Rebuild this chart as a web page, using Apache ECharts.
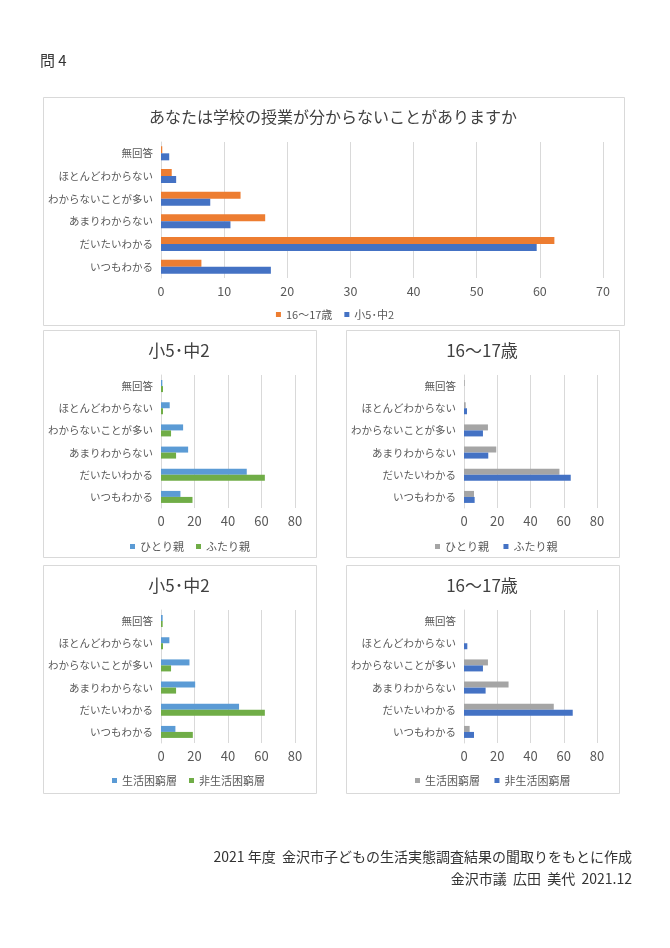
<!DOCTYPE html>
<html><head><meta charset="utf-8">
<script src="https://cdn.jsdelivr.net/npm/echarts@6/dist/echarts.min.js"></script>
<style>html,body{margin:0;padding:0;background:#fff;}#c{width:670px;height:948px;}</style>
</head><body><div id="c"></div>
<script>
const categories = ['いつもわかる','だいたいわかる','あまりわからない','わからないことが多い','ほとんどわからない','無回答'];
// Top chart
const topAge16 = [6.4, 62.3, 16.5, 12.6, 1.7, 0.2];
const topElem = [17.4, 59.5, 11.0, 7.8, 2.4, 1.3];
// 小5・中2 by family
const elemSingle = [11.6, 51.2, 16.2, 13.2, 5.2, 0.8];
const elemTwo = [18.8, 62.0, 9.0, 6.0, 1.2, 1.2];
// 16~17 by family
const hsSingle = [6.0, 57.4, 19.4, 14.4, 1.0, 0.4];
const hsTwo = [6.4, 64.2, 14.6, 11.4, 1.8, 0];
// 小5・中2 by poverty
const elemPoor = [8.6, 46.6, 20.4, 17.0, 5.0, 1.0];
const elemNonPoor = [19.0, 62.0, 9.0, 6.0, 1.2, 1.0];
// 16~17 by poverty
const hsPoor = [3.4, 54.0, 26.8, 14.4, 0, 0];
const hsNonPoor = [6.0, 65.4, 13.0, 11.4, 2.0, 0];

const FONT = '"Noto Sans CJK JP", "Noto Sans", sans-serif';
const TXT = '#595959';
const chart = echarts.init(document.getElementById('c'), null, {renderer:'canvas'});

const grids = [
  {left:161, width:442, top:142, height:136},
  {left:161, width:134, top:375, height:133},
  {left:464, width:133, top:375, height:133},
  {left:161, width:134, top:610, height:133},
  {left:464, width:133, top:610, height:133}
];
function xAx(i, max, interval, fs){
  return {type:'value', gridIndex:i, min:0, max:max, interval:interval,
    axisLine:{show:false}, axisTick:{show:false},
    axisLabel:{color:TXT, fontSize:fs, fontFamily:FONT, margin:7},
    splitLine:{lineStyle:{color:'#d9d9d9', width:1}}};
}
function yAx(i){
  return {type:'category', gridIndex:i, data:categories,
    axisLine:{show:true, lineStyle:{color:'#d9d9d9'}}, axisTick:{show:false},
    axisLabel:{color:TXT, fontSize:10.5, fontFamily:FONT, margin:8}};
}
function bar(name, data, i, color, bw){
  return {type:'bar', name:name, data:data, xAxisIndex:i, yAxisIndex:i,
    barWidth:bw, barGap:'0%', itemStyle:{color:color}, silent:true, animation:false};
}
const legendBase = {itemWidth:5, itemHeight:5, icon:'rect', itemGap:12,
  textStyle:{color:TXT, fontSize:11, fontFamily:FONT}, selectedMode:false};

const boxes = [
  [43,97,581,228],[43,330,273,227],[346,330,273,227],[43,565,273,228],[346,565,273,228]
];
function ttl(text, x, y, fs){
  return {type:'text', x:x, y:y, silent:true, style:{text:text, fontSize:fs, fill:'#404040', fontFamily:FONT, align:'center', verticalAlign:'middle'}};
}

chart.setOption({
  animation:false,
  backgroundColor:'#fff',
  grid:grids,
  xAxis:[xAx(0,70,10,12.5), xAx(1,80,20,13), xAx(2,80,20,13), xAx(3,80,20,13), xAx(4,80,20,13)],
  yAxis:[yAx(0), yAx(1), yAx(2), yAx(3), yAx(4)],
  legend:[
    Object.assign({}, legendBase, {data:['16～17歳','小5･中2'], left:'center', top:304}),
    Object.assign({}, legendBase, {data:['ひとり親','ふたり親'], left:125, top:536}),
    Object.assign({}, legendBase, {data:['ひとり親 ','ふたり親 '], left:430, top:536}),
    Object.assign({}, legendBase, {data:['生活困窮層','非生活困窮層'], left:107, top:770}),
    Object.assign({}, legendBase, {data:['生活困窮層 ','非生活困窮層 '], left:410, top:770})
  ],
  series:[
    bar('16～17歳', topAge16, 0, '#ED7D31', 7),
    bar('小5･中2', topElem, 0, '#4472C4', 7),
    bar('ひとり親', elemSingle, 1, '#5B9BD5', 6),
    bar('ふたり親', elemTwo, 1, '#70AD47', 6),
    bar('ひとり親 ', hsSingle, 2, '#A5A5A5', 6),
    bar('ふたり親 ', hsTwo, 2, '#4472C4', 6),
    bar('生活困窮層', elemPoor, 3, '#5B9BD5', 6),
    bar('非生活困窮層', elemNonPoor, 3, '#70AD47', 6),
    bar('生活困窮層 ', hsPoor, 4, '#A5A5A5', 6),
    bar('非生活困窮層 ', hsNonPoor, 4, '#4472C4', 6)
  ],
  graphic:[
    ...boxes.map(b=>({type:'rect', silent:true, shape:{x:b[0]+0.5,y:b[1]+0.5,width:b[2],height:b[3]}, style:{fill:'none', stroke:'#d9d9d9', lineWidth:1}, z:-1})),
    ttl('あなたは学校の授業が分からないことがありますか', 333, 117, 16),
    ttl('小5･中2', 179, 351, 17),
    ttl('16～17歳', 482, 351, 17),
    ttl('小5･中2', 179, 586, 17),
    ttl('16～17歳', 482, 586, 17),
    {type:'text', left:40, top:53, style:{text:'問 4', fontSize:15, fill:'#333', fontFamily:FONT}},
    {type:'text', right:38, top:850, style:{text:'2021 年度  金沢市子どもの生活実態調査結果の聞取りをもとに作成', fontSize:14, fill:'#333', fontFamily:FONT}},
    {type:'text', right:38, top:872, style:{text:'金沢市議  広田  美代  2021.12', fontSize:14, fill:'#333', fontFamily:FONT}}
  ]
});
</script></body></html>
